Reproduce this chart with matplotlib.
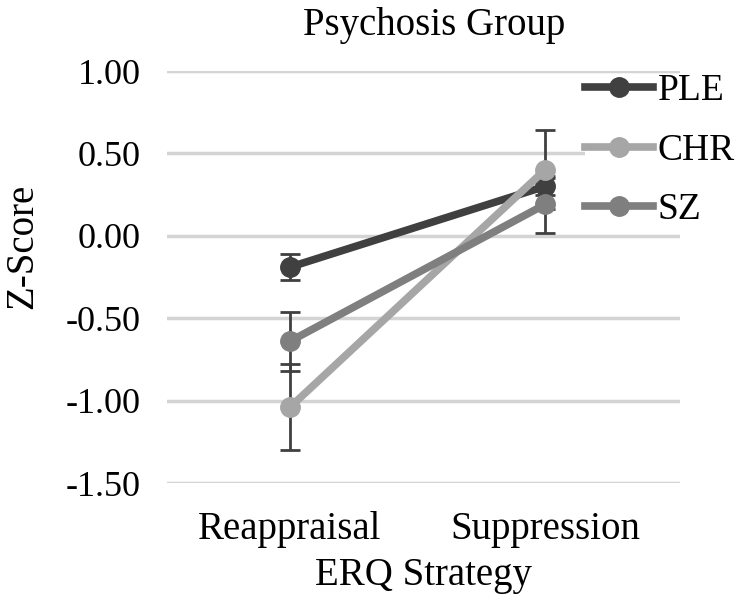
import numpy as np
import matplotlib.pyplot as plt

plt.rcParams['font.family'] = ['Liberation Serif', 'DejaVu Serif']

strategies = ['Reappraisal', 'Suppression']
groups = ['PLE', 'CHR', 'SZ']
ple_mean = [-0.19, 0.30]
chr_mean = [-1.04, 0.40]
sz_mean = [-0.64, 0.19]
ple_err = [0.08, 0.05]
chr_err = [0.26, 0.24]
sz_err = [0.18, 0.17]
yticks = [1.0, 0.5, 0.0, -0.5, -1.0, -1.5]

colors = {'PLE': '#404040', 'CHR': '#a6a6a6', 'SZ': '#7f7f7f'}
means = {'PLE': ple_mean, 'CHR': chr_mean, 'SZ': sz_mean}
errs = {'PLE': ple_err, 'CHR': chr_err, 'SZ': sz_err}

fig = plt.figure(figsize=(7.5, 6), dpi=100)
ax = fig.add_axes([167 / 750, 1 - 483 / 600, (680 - 167) / 750, (483 - 71) / 600])

x = np.arange(len(strategies))

# error bars first, so markers sit over them
for g in groups:
    ax.errorbar(x, means[g], yerr=errs[g], fmt='none', ecolor='#404040',
                elinewidth=2, capsize=7.5, capthick=2, zorder=2)

for g in groups:
    ax.plot(x, means[g], color=colors[g], lw=5.5, marker='o', ms=14,
            label=g, zorder=3, clip_on=False)

ax.set_xlim(-(290 - 167) / 255, (680 - 290) / 255)
ax.set_ylim(-1.5, 1.0)
ax.set_yticks(yticks)
ax.set_yticklabels(['%.2f' % v for v in yticks])
ax.set_xticks(x)
ax.set_xticklabels(strategies)
ax.tick_params(axis='both', length=0, colors='black')
ax.tick_params(axis='y', labelsize=26, pad=19)
ax.tick_params(axis='x', labelsize=28, pad=20)

ax.grid(axis='y', color='#d4d4d4', lw=2.5)
ax.set_axisbelow(True)
for s in ax.spines.values():
    s.set_visible(False)

ax.set_title('Psychosis Group', fontsize=28, pad=26, x=0.52)
ax.set_xlabel('ERQ Strategy', fontsize=28, labelpad=7)
ax.set_ylabel('Z-Score', fontsize=28)
ax.yaxis.set_label_coords(-0.245, 0.575)

leg = ax.legend(loc='upper left', bbox_to_anchor=(585 / 750, 1 - 74 / 600),
                bbox_transform=fig.transFigure, fontsize=27, frameon=True,
                facecolor='white', edgecolor='none', framealpha=1,
                handlelength=1.8, handletextpad=0.13, labelspacing=0.66,
                borderpad=0.0, borderaxespad=0, fancybox=False)
leg.set_zorder(5)

fig.savefig('out.png', dpi=100)
